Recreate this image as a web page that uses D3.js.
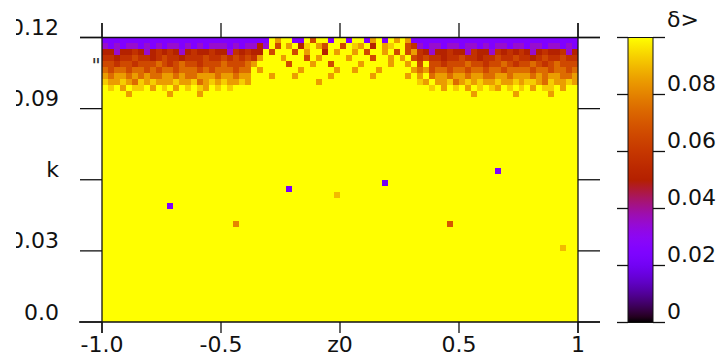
<!DOCTYPE html>
<html>
<head>
<meta charset="utf-8">
<script src="https://cdn.jsdelivr.net/npm/d3@7"></script>
<style>
body { margin: 0; background: #fff; }
text { font-family: "DejaVu Sans", sans-serif; font-size: 22px; fill: #111; }
</style>
</head>
<body>
<svg width="727" height="358"></svg>
<script>
// axis ticks / labels
var xTicks = [-1, -0.5, 0, 0.5, 1];
var xTickLabels = ["-1.0", "-0.5", "z0", "0.5", "1"];
var yTicks = [0, 0.03, 0.06, 0.09, 0.12];
var yTickLabels = ["0.0", "0.03", "k", "0.09", "0.12"];
var cbTicks = [0, 0.02, 0.04, 0.06, 0.08, 0.1];
var cbTickLabels = ["0", "0.02", "0.04", "0.06", "0.08", ""];
var cbTitle = "δ>";

// grid: 80 columns over z0 = -1..1, 48 rows over k = 0..0.12
var nCols = 80, nRows = 48;
var fillLevel = "Y";

// value of each letter used in the band rows
var levels = { p: 0.025, m: 0.035, r: 0.05, R: 0.058, o: 0.066, O: 0.075, a: 0.085, y: 0.093, Y: 0.1 };

// top rows of the map (row 0 = top, k near 0.12)
var bandRows = [
  "pppppppppp pppppppppp ppppppppYa YYppYoYYpY YpYYpaYpYa Yapppppppp pppppppppp pppppppppp",
  "mpmpmmpmpm pmmpmpmpmm mpmpmmrmYo YaYryYaoYY oYyaYrYayY YoRmpmmpmm pmmpmpmmpm mpmmpmmpmp",
  "rrmrrRrmrR rRrmrRrrRr rmRrRrrYoY YYoYaYYrYa YYaYoYYaYo YoaRrmrrRr rmRrrmRrRr RrmrRrrRmr",
  "RRrRRoRRrR oRRrRRRoRR oRoRoRaYYY aYYYoYaYYY YaYYYoYYaY aYoRoRRrRR oRRrRRoRRo RRrRoRRoRR",
  "ooRooRoooO oRoOooRooo OoooOaYYYY YoYYYaYYoY YYYaYYYYaY YaYoYooRoo oOooRooOoR ooOoRoOooo",
  "OoOOoOOoOo OOoOOOoOoO OOoOOYaYYY YYYaYYYYYa YYaYYYaYYY YYaOaoOOoO OoOOoOOoOO OOoOOoOOoO",
  "aOaaOaOaOO aaOaOOaaaO aaOaaYYYaY YYaYYYYYaY YYYYYaYYYY YaYaYOaaOa aOaaOOaaOa aaOaOaaOOa",
  "yaayaOyaya aayaayOaya yaayaYYYYY YYYYYYaYYY YYYYYYYYYY YYYyaYaayO ayayaayaay ayyaOyaaya",
  "YyYaYyyYaY yYaYyYyaYy YyYYYYYYYY YYYYYYYYYY YYYYYYYYYY YYYYYyYaYy YaYyYyaYyY yYaYyyYaYY",
  "YYYYaYYYYY YaYYYYaYYY YYYYYYYYYY YYYYYYYYYY YYYYYYYYYY YYYYYYYYYY YYaYYYYYYa YYYYYaYYYY"
];

// isolated cells further down: [z0, k, value]
var spots = [
  [-0.718, 0.049, 0.025],
  [-0.202, 0.0565, 0.022],
  [0.197, 0.060, 0.02],
  [0.660, 0.064, 0.025],
  [-0.440, 0.040, 0.08],
  [-0.017, 0.054, 0.09],
  [0.460, 0.042, 0.07],
  [0.945, 0.032, 0.09]
];

var svg = d3.select("svg");
var defs = svg.append("defs");

var x = d3.scaleLinear().domain([-1, 1]).range([102, 578]);
var y = d3.scaleLinear().domain([0, 0.12]).range([322, 37.5]);
var cb = d3.scaleLinear().domain([0, 0.1]).range([322.5, 37.5]);

// gnuplot default palette (rgbformulae 7,5,15)
function palette(t) {
    t = Math.max(0, Math.min(1, t));
    var r = Math.sqrt(t), g = t * t * t, b = Math.max(0, Math.sin(2 * Math.PI * t));
    return d3.rgb(r * 255, g * 255, b * 255).toString();
}
function colour(v) { return palette(v / 0.1); }

// build the grid
var dz = 2 / nCols, dk = 0.12 / nRows;
var grid = [];
for (var j = 0; j < nRows; j++) {
    var row = j < bandRows.length ? bandRows[j].replace(/ /g, "") : null;
    for (var i = 0; i < nCols; i++) {
        var c = row ? row[i] : fillLevel;
        grid.push({ i: i, j: j, v: levels[c] });
    }
}
spots.forEach(function (s) {
    var i = Math.floor((s[0] + 1) / dz);
    var j = Math.floor((0.12 - s[1]) / dk);
    grid[j * nCols + i].v = s[2];
});

var cw = x(-1 + dz) - x(-1);
var ch = y(0) - y(dk);

defs.append("clipPath").attr("id", "plotclip")
    .append("rect").attr("x", x(-1)).attr("y", y(0.12))
    .attr("width", x(1) - x(-1)).attr("height", y(0) - y(0.12));
defs.append("filter").attr("id", "soft")
    .append("feGaussianBlur").attr("stdDeviation", 0.6);

svg.append("g").attr("clip-path", "url(#plotclip)")
    .append("g").attr("filter", "url(#soft)")
    .selectAll("rect")
    .data(grid)
    .enter().append("rect")
    .attr("x", function (d) { return x(-1 + d.i * dz); })
    .attr("y", function (d) { return y(0.12 - d.j * dk); })
    .attr("width", cw + 0.6)
    .attr("height", ch + 0.6)
    .attr("shape-rendering", "crispEdges")
    .attr("fill", function (d) { return colour(d.v); });

// frame and ticks
var ax = svg.append("g").attr("stroke", "#111").attr("stroke-width", 1.3).attr("fill", "none");
ax.append("line").attr("x1", 79).attr("x2", 600).attr("y1", y(0)).attr("y2", y(0));
ax.append("line").attr("x1", 80).attr("x2", 600).attr("y1", y(0.12)).attr("y2", y(0.12));
ax.append("line").attr("x1", x(-1)).attr("x2", x(-1)).attr("y1", 23).attr("y2", 333);
ax.append("line").attr("x1", x(1)).attr("x2", x(1)).attr("y1", 23).attr("y2", 333);

yTicks.forEach(function (t) {
    ax.append("line").attr("x1", 80).attr("x2", x(-1)).attr("y1", y(t)).attr("y2", y(t));
    ax.append("line").attr("x1", x(1)).attr("x2", 600).attr("y1", y(t)).attr("y2", y(t));
});
xTicks.forEach(function (t) {
    ax.append("line").attr("x1", x(t)).attr("x2", x(t)).attr("y1", 23).attr("y2", y(0.12));
    ax.append("line").attr("x1", x(t)).attr("x2", x(t)).attr("y1", y(0)).attr("y2", 333);
});

// labels
defs.append("clipPath").attr("id", "leftclip")
    .append("rect").attr("x", 16).attr("y", 0).attr("width", 100).attr("height", 358);

svg.append("g").attr("clip-path", "url(#leftclip)")
    .selectAll("text").data(yTicks).enter().append("text")
    .attr("x", 59)
    .attr("y", function (d) { return y(d) - 2.5; })
    .attr("text-anchor", "end")
    .text(function (d, i) { return yTickLabels[i]; });

svg.append("g").selectAll("text").data(xTicks).enter().append("text")
    .attr("x", function (d) { return x(d); })
    .attr("y", 352)
    .attr("text-anchor", "middle")
    .text(function (d, i) { return xTickLabels[i]; });

svg.append("text").attr("x", 96).attr("y", 72).attr("text-anchor", "middle")
    .style("font-size", "20px").style("fill", "#333").text('"');

// colour bar
var grad = defs.append("linearGradient").attr("id", "cbgrad")
    .attr("x1", 0).attr("x2", 0).attr("y1", 1).attr("y2", 0);
d3.range(0, 1.0001, 0.02).forEach(function (t) {
    grad.append("stop").attr("offset", t).attr("stop-color", palette(t));
});
svg.append("rect")
    .attr("x", 628).attr("y", cb(0.1)).attr("width", 25).attr("height", cb(0) - cb(0.1))
    .attr("fill", "url(#cbgrad)").attr("stroke", "#111").attr("stroke-width", 1);

var cbAx = svg.append("g").attr("stroke", "#111").attr("stroke-width", 1.3);
cbTicks.forEach(function (t) {
    cbAx.append("line").attr("x1", 617).attr("x2", 628).attr("y1", cb(t)).attr("y2", cb(t));
    cbAx.append("line").attr("x1", 653).attr("x2", 665).attr("y1", cb(t)).attr("y2", cb(t));
});

svg.append("g").selectAll("text").data(cbTicks).enter().append("text")
    .attr("x", 667)
    .attr("y", function (d) { return cb(d) - 4; })
    .text(function (d, i) { return cbTickLabels[i]; });

svg.append("text").attr("x", 667).attr("y", 27).text(cbTitle);
</script>
</body>
</html>
